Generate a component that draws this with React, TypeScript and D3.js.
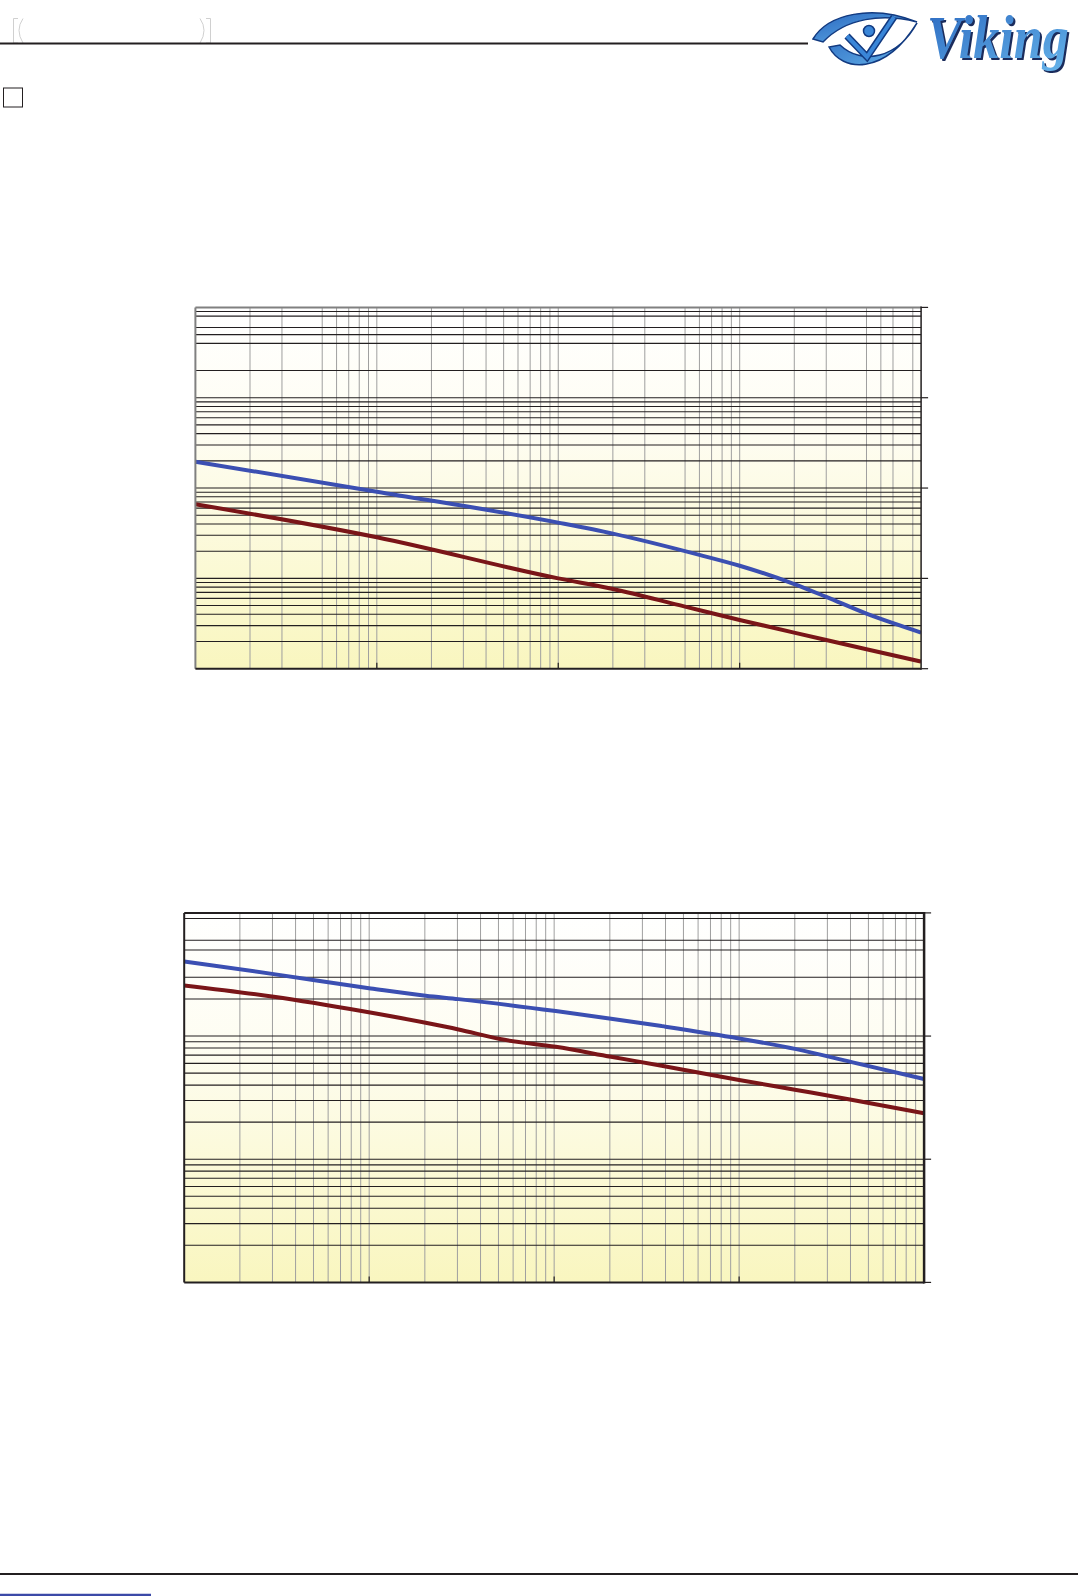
import React from 'react';
import * as d3 from 'd3';

// ---------- Data (axis labels not shown in the original) ----------
// Chart 1: log-log, x over 4 decades, y over 4 decades
const c1XDomain = [1, 10000];
const c1YDomain = [1, 10000];
const c1BlueX = [1, 10, 100, 200, 600, 1000, 2000, 3000, 5000, 7000, 10000];
const c1BlueY = [196, 91.2, 41.4, 31.3, 18.2, 13.8, 8.65, 6.24, 4.07, 3.19, 2.51];
const c1RedX = [1, 10, 100, 200, 500, 1000, 3000, 5000, 10000];
const c1RedY = [66.2, 28.5, 10.0, 7.64, 4.86, 3.46, 2.08, 1.64, 1.2];
const c1VGrid = [2, 3, 5, 6, 7, 8, 9, 10, 20, 30, 40, 50, 60, 70, 80, 90, 100, 200, 300, 500, 600, 700, 800, 900, 1000, 2000, 3000, 5000, 6000, 7000, 9000];
const c1HGrid = [2, 3, 4, 5, 6, 7, 8, 9, 10, 20, 30, 40, 50, 60, 70, 80, 90, 100, 200, 300, 400, 500, 600, 700, 800, 900, 1000, 2000, 4000, 5000, 6000, 8000, 9000];
const c1XTicks = [10, 100, 1000];
const c1YTicks = [1, 10, 100, 1000, 10000];

// Chart 2: log-log, x over 4 decades, y over 3 decades
const c2XDomain = [1, 10000];
const c2YDomain = [1, 1000];
const c2BlueX = [1, 3.05, 10.2, 20.2, 30.4, 102, 203, 381, 1000, 2037, 4111, 10000];
const c2BlueY = [403.6, 318.4, 243.8, 212.3, 199.5, 159.6, 138.4, 120.5, 95.7, 78.3, 61.1, 44.8];
const c2RedX = [1, 3.05, 9.1, 20.2, 30.4, 51, 102, 203, 381, 1000, 2037, 4111, 10000];
const c2RedY = [257.6, 208.4, 159.6, 128.2, 113.2, 94.6, 81.8, 67.9, 57.4, 44.0, 36.5, 30.3, 23.6];
const c2VGrid = [2, 3, 4, 5, 6, 7, 8, 9, 10, 20, 30, 40, 50, 60, 70, 80, 90, 100, 200, 300, 400, 500, 600, 700, 800, 900, 1000, 2000, 3000, 4000, 5000, 6000, 7000, 8000, 9000];
const c2HGrid = [2, 3, 4, 5, 6, 7, 8, 9, 10, 20, 30, 40, 50, 60, 70, 80, 90, 100, 200, 300, 500, 600, 900];
const c2XTicks = [10, 100, 1000];
const c2YTicks = [1, 10, 100, 1000];

const BLUE = '#3b4fb2';
const RED = '#7a1518';

type ChartProps = {
  id: string;
  left: number; right: number; top: number; bottom: number;
  xDomain: number[]; yDomain: number[];
  blueX: number[]; blueY: number[]; redX: number[]; redY: number[];
  vGrid: number[]; hGrid: number[]; xTicks: number[]; yTicks: number[];
  frameTopLeft: string; rightWidth: number;
};

function Chart(p: ChartProps) {
  const x = d3.scaleLog().domain(p.xDomain).range([p.left, p.right]);
  const y = d3.scaleLog().domain(p.yDomain).range([p.bottom, p.top]);
  const line = d3.line<[number, number]>()
    .x(d => x(d[0]))
    .y(d => y(d[1]))
    .curve(d3.curveMonotoneX);
  const blue = p.blueX.map((v, i) => [v, p.blueY[i]] as [number, number]);
  const red = p.redX.map((v, i) => [v, p.redY[i]] as [number, number]);
  return (
    <g>
      <defs>
        <linearGradient id={p.id + 'bg'} x1="0" y1="0" x2="0" y2="1">
          <stop offset="0" stopColor="#ffffff" />
          <stop offset="0.35" stopColor="#fefdf2" />
          <stop offset="1" stopColor="#f9f6bf" />
        </linearGradient>
        <clipPath id={p.id + 'clip'}>
          <rect x={p.left} y={p.top} width={p.right - p.left} height={p.bottom - p.top} />
        </clipPath>
      </defs>
      <rect x={p.left} y={p.top} width={p.right - p.left} height={p.bottom - p.top} fill={`url(#${p.id}bg)`} />
      {p.vGrid.map(v => (
        <line key={'v' + v} x1={x(v)} x2={x(v)} y1={p.top} y2={p.bottom} stroke="#9f9f9f" strokeWidth={1} />
      ))}
      {p.hGrid.map(v => (
        <line key={'h' + v} x1={p.left} x2={p.right} y1={y(v)} y2={y(v)} stroke="#231f20" strokeWidth={1.1} />
      ))}
      <g clipPath={`url(#${p.id}clip)`}>
        <path d={line(blue) || ''} fill="none" stroke={BLUE} strokeWidth={4} />
        <path d={line(red) || ''} fill="none" stroke={RED} strokeWidth={4} />
      </g>
      {/* frame */}
      <line x1={p.left} x2={p.right} y1={p.top} y2={p.top} stroke={p.frameTopLeft} strokeWidth={2} />
      <line x1={p.left} x2={p.left} y1={p.top} y2={p.bottom} stroke={p.frameTopLeft} strokeWidth={2} />
      <line x1={p.left} x2={p.right} y1={p.bottom} y2={p.bottom} stroke="#231f20" strokeWidth={2} />
      <line x1={p.right} x2={p.right} y1={p.top - 1} y2={p.bottom + 1} stroke="#231f20" strokeWidth={p.rightWidth} />
      {p.xTicks.map(v => (
        <line key={'xt' + v} x1={x(v)} x2={x(v)} y1={p.bottom} y2={p.bottom - 6} stroke="#231f20" strokeWidth={1.2} />
      ))}
      {p.yTicks.map(v => (
        <line key={'yt' + v} x1={p.right} x2={p.right + 7} y1={y(v)} y2={y(v)} stroke="#231f20" strokeWidth={1.2} />
      ))}
    </g>
  );
}

function Logo() {
  return (
    <g>
      <defs>
        <linearGradient id="logoGrad" x1="0" y1="0" x2="1" y2="1">
          <stop offset="0" stopColor="#2a68c0" />
          <stop offset="1" stopColor="#66b4ea" />
        </linearGradient>
      </defs>
      {/* eye */}
      <path d="M813,39 C828,14 872,4 917,22 C882,13 846,18 823,42 Z" fill="url(#logoGrad)" stroke="#123a80" strokeWidth={1.5} />
      <path d="M829,47 C842,72 884,76 917,23 C898,58 862,66 840,45 Z" fill="url(#logoGrad)" stroke="#123a80" strokeWidth={1.5} />
      <polyline points="847,36 867,57 894,17" fill="none" stroke="#123a80" strokeWidth={7} strokeLinejoin="miter" />
      <polyline points="847,36 867,57 894,17" fill="none" stroke="#3a86d8" strokeWidth={4} strokeLinejoin="miter" />
      <circle cx={869} cy={31} r={5.5} fill="#3a86d8" stroke="#123a80" strokeWidth={1.5} />
      {/* wordmark */}
      <g transform="translate(929,60) scale(0.84,1)">
        <text x={0} y={0} fontFamily="Liberation Serif, serif" fontStyle="italic" fontWeight="bold" fontSize={62}
          fill="#1b2c5c">Viking</text>
      </g>
      <g transform="translate(927,58) scale(0.84,1)">
        <text x={0} y={0} fontFamily="Liberation Serif, serif" fontStyle="italic" fontWeight="bold" fontSize={62}
          fill="url(#logoGrad)">Viking</text>
      </g>
    </g>
  );
}

export default function App() {
  return (
    <svg width={1088} height={1596} style={{ position: 'absolute', left: 0, top: 0, background: '#fff' }}>
      <rect x={0} y={0} width={1088} height={1596} fill="#fff" />
      {/* header */}
      <path d="M13.5,18.5 V43 M13.5,18.5 H18 M13.5,43 H18" fill="none" stroke="#c4c4c4" strokeWidth={0.8} />
      <path d="M23,18.5 Q15,30 23,43" fill="none" stroke="#c4c4c4" strokeWidth={0.8} />
      <path d="M200,18.5 Q208,30 200,43" fill="none" stroke="#c4c4c4" strokeWidth={0.8} />
      <path d="M210.5,18.5 V43 M210.5,18.5 H206 M210.5,43 H206" fill="none" stroke="#c4c4c4" strokeWidth={0.8} />
      <line x1={0} x2={808} y1={43.5} y2={43.5} stroke="#231f20" strokeWidth={1.8} />
      <Logo />
      <rect x={3.5} y={88} width={19} height={19} fill="none" stroke="#231f20" strokeWidth={1} />

      <Chart id="c1" left={195.4} right={921.1} top={307.4} bottom={668.7}
        xDomain={c1XDomain} yDomain={c1YDomain}
        blueX={c1BlueX} blueY={c1BlueY} redX={c1RedX} redY={c1RedY}
        vGrid={c1VGrid} hGrid={c1HGrid} xTicks={c1XTicks} yTicks={c1YTicks}
        frameTopLeft="#808080" rightWidth={1.5} />

      <Chart id="c2" left={184.2} right={924.1} top={912.9} bottom={1282.4}
        xDomain={c2XDomain} yDomain={c2YDomain}
        blueX={c2BlueX} blueY={c2BlueY} redX={c2RedX} redY={c2RedY}
        vGrid={c2VGrid} hGrid={c2HGrid} xTicks={c2XTicks} yTicks={c2YTicks}
        frameTopLeft="#231f20" rightWidth={2.5} />

      {/* footer */}
      <line x1={0} x2={1078} y1={1574} y2={1574} stroke="#231f20" strokeWidth={2} />
      <line x1={0} x2={151} y1={1595} y2={1595} stroke="#3b4aa8" strokeWidth={2.5} />
    </svg>
  );
}
